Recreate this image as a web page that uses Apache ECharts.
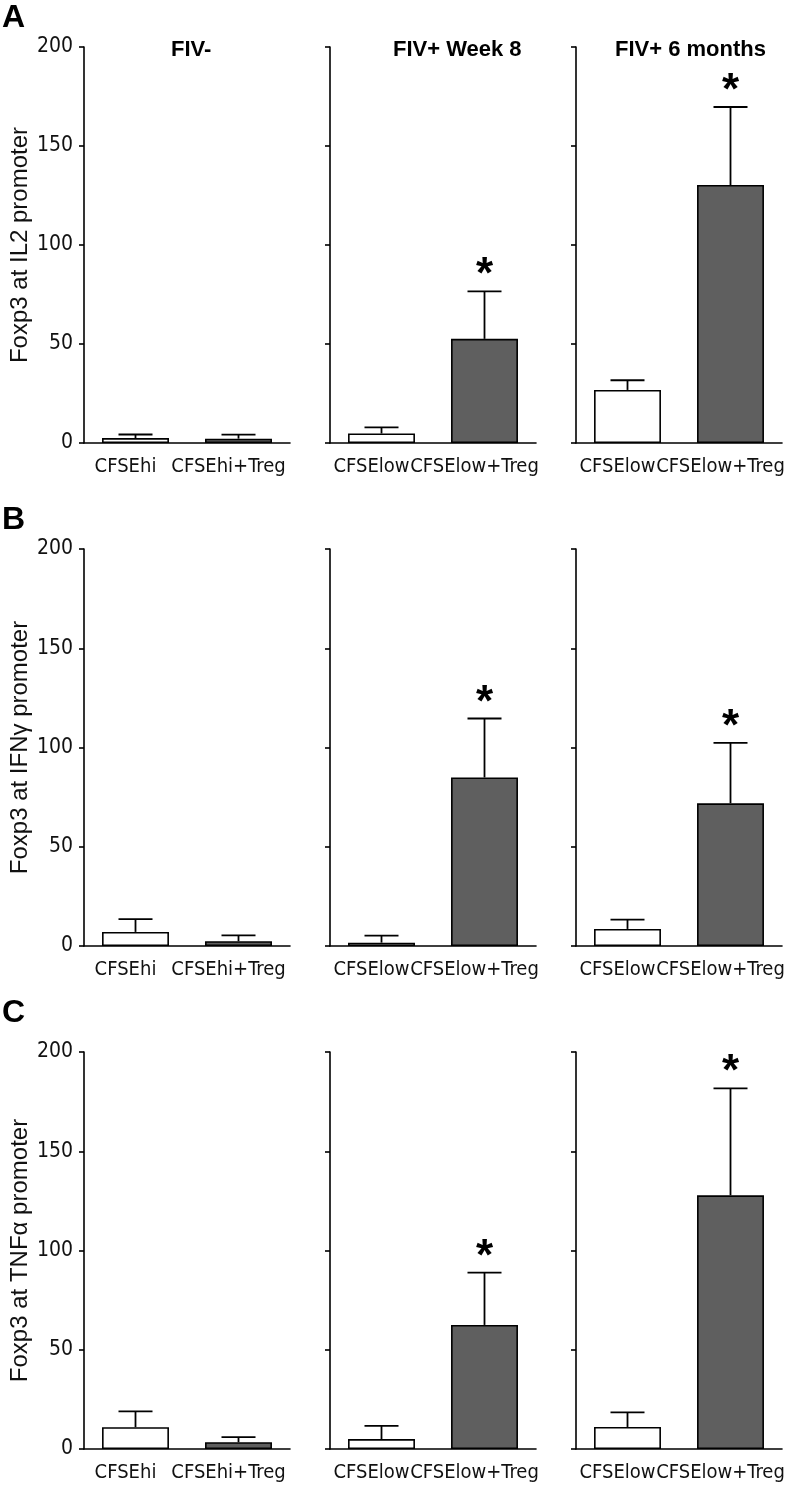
<!DOCTYPE html>
<html>
<head>
<meta charset="utf-8">
<script src="https://cdn.jsdelivr.net/npm/echarts@6/dist/echarts.min.js"></script>
<style>
html,body{margin:0;padding:0;background:#fff;}
#chart{width:792px;height:1498px;}
</style>
</head>
<body>
<div id="chart"></div>
<script>
// ---- data ----
const catsFIVneg = ['CFSEhi', 'CFSEhi+Treg'];
const catsFIVpos = ['CFSElow', 'CFSElow+Treg'];
const panelTitles = ['FIV-', 'FIV+ Week 8', 'FIV+ 6 months'];
const rowLetters = ['A', 'B', 'C'];
const yAxisNames = ['Foxp3 at IL2 promoter', 'Foxp3 at IFN\u03b3 promoter', 'Foxp3 at TNF\u03b1 promoter'];
const yTicks = [0, 50, 100, 150, 200];

// per row: [FIV-, FIV+ Week 8, FIV+ 6 months], each [control, +Treg]
const il2Mean = [[2.5, 2.2], [4.8, 52.6], [26.8, 130.3]];
const il2Sem  = [[1.8, 2.0], [3.1, 24.0], [4.9, 39.4]];
const ifngMean = [[7.1, 2.4], [1.7, 84.9], [8.6, 71.9]];
const ifngSem  = [[6.4, 3.0], [3.5, 29.7], [4.7, 30.4]];
const tnfaMean = [[11.0, 3.4], [5.0, 62.5], [11.1, 127.8]];
const tnfaSem  = [[8.0, 2.6], [6.6, 26.4], [7.4, 53.9]];
const significant = [[false, false], [false, true], [false, true]];

const rowMeans = [il2Mean, ifngMean, tnfaMean];
const rowSems = [il2Sem, ifngSem, tnfaSem];

// ---- layout ----
const colLeft = [84, 330, 576];
const colWidth = 206;
const rowTop = [47, 549, 1052];
const rowHeight = [396, 397, 397];
const titleX = [171, 393, 615];
const letterY = [18, 520, 1013];

const NARROW = "'Liberation Sans Narrow', 'DejaVu Sans Condensed', sans-serif";
const BARCOLORS = ['#ffffff', '#5f5f5f'];

const grids = [], xAxes = [], yAxes = [], series = [], graphics = [];
let gi = 0;
for (let r = 0; r < 3; r++) {
  for (let c = 0; c < 3; c++) {
    grids.push({left: colLeft[c], top: rowTop[r], width: colWidth, height: rowHeight[r]});
    const cats = c === 0 ? catsFIVneg : catsFIVpos;
    xAxes.push({
      type: 'category', gridIndex: gi, data: cats,
      axisLine: {lineStyle: {color: '#000', width: 1.6}},
      axisTick: {alignWithLabel: true, length: 11, lineStyle: {color: '#000', width: 1.6}},
      axisLabel: {color: '#111', fontFamily: NARROW, fontSize: 20, margin: 14, padding: [0, 20, 0, 0], interval: 0}
    });
    yAxes.push({
      type: 'value', gridIndex: gi, min: yTicks[0], max: yTicks[yTicks.length - 1],
      interval: yTicks[1] - yTicks[0],
      splitLine: {show: false},
      axisLine: {show: true, lineStyle: {color: '#000', width: 1.6}},
      axisTick: {show: true, length: 5, lineStyle: {color: '#000', width: 1.6}},
      axisLabel: {show: c === 0, color: '#111', fontFamily: NARROW, fontSize: 21, margin: 11},
      name: c === 0 ? yAxisNames[r] : '',
      nameLocation: 'middle', nameRotate: 90, nameGap: 52,
      nameTextStyle: {color: '#111', fontFamily: "'Liberation Sans', sans-serif", fontSize: 24}
    });
    const means = rowMeans[r][c];
    const sems = rowSems[r][c];
    const sig = significant[c];
    series.push({
      type: 'bar', xAxisIndex: gi, yAxisIndex: gi, barWidth: '65%',
      data: means.map((v, i) => ({value: v, itemStyle: {color: BARCOLORS[i], borderColor: '#000', borderWidth: 1.6}})),
      animation: false, z: 2
    });
    series.push({
      type: 'custom', xAxisIndex: gi, yAxisIndex: gi, z: 3, animation: false,
      data: means.map((v, i) => [i, v, v + sems[i], sig[i] ? 1 : 0]),
      renderItem: function (params, api) {
        const base = api.coord([api.value(0), api.value(1)]);
        const top = api.coord([api.value(0), api.value(2)]);
        const half = 17;
        const children = [
          {type: 'line', shape: {x1: base[0], y1: base[1], x2: top[0], y2: top[1]}, style: {stroke: '#000', lineWidth: 1.8}},
          {type: 'line', shape: {x1: top[0] - half, y1: top[1], x2: top[0] + half, y2: top[1]}, style: {stroke: '#000', lineWidth: 1.8}}
        ];
        if (api.value(3) === 1) {
          children.push({type: 'text', style: {text: '*', x: top[0], y: top[1] - 15, align: 'center', verticalAlign: 'middle',
            font: "bold 44px 'Liberation Sans', sans-serif", fill: '#000'}});
        }
        return {type: 'group', children: children};
      }
    });
    if (r === 0) {
      graphics.push({type: 'text', left: titleX[c], top: 39,
        style: {text: panelTitles[c], font: "bold 22px 'Liberation Sans', sans-serif", fill: '#000'}});
    }
    gi++;
  }
  graphics.push({type: 'text', left: 2, top: letterY[r] - 16,
    style: {text: rowLetters[r], font: "bold 32px 'Liberation Sans', sans-serif", fill: '#000'}});
}

const chart = echarts.init(document.getElementById('chart'), null, {renderer: 'canvas'});
chart.setOption({
  animation: false,
  backgroundColor: '#fff',
  grid: grids, xAxis: xAxes, yAxis: yAxes, series: series, graphic: graphics
});
</script>
</body>
</html>
